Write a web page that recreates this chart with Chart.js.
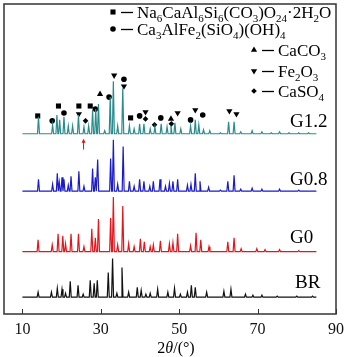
<!DOCTYPE html>
<html lang="zh">
<head>
<meta charset="UTF-8">
<title>XRD 图谱</title>
<script src="https://cdn.jsdelivr.net/npm/chart.js@4.4.1/dist/chart.umd.min.js"></script>
<style>
  html, body { margin: 0; padding: 0; background: #fff; }
  #wrap { width: 350px; height: 357px; }
</style>
</head>
<body>
<div id="wrap"><canvas id="xrd" width="350" height="357"></canvas></div>
<script>
// 各样品衍射峰位置 (2θ) 与峰高，基线为纵向偏移量
const g12Pos = [14.1, 17.7, 18.8, 19.5, 20.6, 21.7, 22.8, 24.3, 25.7, 26.9, 27.9, 28.7, 29.4, 31.0, 32.4, 33.2, 34.3, 35.6, 37.3, 38.5, 39.9, 41.0, 42.6, 43.8, 45.4, 46.9, 47.9, 48.9, 50.4, 52.9, 54.1, 55.0, 56.2, 57.8, 60.5, 62.6, 64.0, 65.7, 68.6, 71.1, 73.5, 75.6, 78.0, 80.5, 83.0];
const g12Int = [17, 9, 19, 14, 17, 8, 8, 19, 7, 8, 24, 25, 30, 3, 37, 53, 8, 46, 8, 5, 10, 10, 5, 7, 10, 7, 8, 11, 5, 8, 14, 9, 4, 3, 1, 12, 12, 2, 3, 2, 1, 2, 1, 1, 1];
const g08Pos = [14.1, 17.7, 18.9, 19.4, 20.1, 20.6, 21.7, 22.4, 24.4, 25.7, 27.9, 28.6, 29.2, 32.5, 33.2, 34.3, 35.7, 37.3, 38.5, 39.9, 41.0, 42.5, 43.4, 45.1, 46.5, 47.5, 48.4, 49.6, 52.1, 53.0, 54.1, 55.3, 57.5, 60.5, 62.4, 64.0, 65.7, 68.6, 71.1, 75.6, 80.5];
const g08Int = [12, 7, 18, 9, 14, 12, 6, 15, 20, 5, 23, 14, 32, 33, 52, 7, 45, 10, 5, 12, 10, 5, 10, 12, 5, 8, 10, 12, 6, 7, 18, 10, 4, 1, 10, 16, 2, 3, 2, 2, 1];
const g0Pos = [14.0, 17.6, 19.1, 20.3, 21.0, 22.4, 24.3, 25.7, 27.7, 28.6, 29.4, 32.5, 33.2, 34.3, 35.6, 37.1, 38.5, 40.1, 41.1, 42.6, 43.4, 45.2, 47.5, 48.4, 49.6, 52.9, 54.3, 55.5, 57.6, 62.4, 64.0, 65.8, 69.8, 71.9, 75.6, 80.5];
const g0Int = [12, 7, 18, 16, 8, 18, 18, 5, 23, 14, 33, 34, 55, 7, 46, 8, 5, 13, 10, 5, 7, 11, 8, 9, 18, 6, 19, 12, 5, 10, 14, 3, 3, 2, 2, 1];
const brPos = [14.0, 17.4, 18.9, 20.1, 21.0, 22.2, 24.2, 25.5, 27.3, 28.3, 29.1, 31.9, 33.0, 34.1, 35.4, 37.1, 39.3, 40.3, 41.5, 42.6, 44.5, 47.1, 48.8, 50.3, 52.1, 53.1, 54.1, 57.0, 61.4, 63.2, 66.9, 68.8, 71.1, 75.0, 80.0, 84.0];
const brInt = [5, 5, 9, 8, 4, 16, 12, 3, 17, 14, 17, 25, 39, 4, 30, 5, 10, 7, 3, 4, 8, 5, 9, 3, 5, 12, 10, 5, 6, 8, 3, 2, 2, 1, 1, 1];
const baselines = [182, 124, 63, 17]; // G1.2, G0.8, G0, BR
const scanRange = [10, 85];

// 物相标记位置
const sqX = [13.9, 19.2, 24.4, 27.3, 37.6];
const sqY = [200, 210, 210, 210, 198];
const ciX = [17.6, 20.6, 28.6, 32.1, 35.9, 39.9, 45.3, 52.9, 56.0];
const ciY = [195, 203, 207, 219, 237, 200, 198, 196, 201];
const upX = [29.8, 47.9];
const upY = [222, 197];
const dnX = [24.4, 33.4, 35.9, 41.4, 49.6, 54.1, 62.8, 64.6];
const dnY = [202, 241, 230, 204, 203, 206, 205, 202];
const diX = [26.1, 41.4, 43.7, 48.0];
const diY = [195, 197, 191, 192];

const arrowX = 25.6, arrowFrom = 166, arrowTo = 177;
const xTicks = [10, 30, 50, 70, 90];
const sampleNames = ['G1.2', 'G0.8', 'G0', 'BR'];
const sampleColors = ['#2a8c8c', '#1b1bcc', '#e3161e', '#111111'];
const phaseNames = ['Na_6CaAl_6Si_6(CO_3)O_24·2H_2O', 'Ca_3AlFe_2(SiO_4)(OH)_4', 'CaCO_3', 'Fe_2O_3', 'CaSO_4'];

const serif = '"Liberation Serif", "Times New Roman", serif';

// 把峰表转成折线点
function spikes(pos, ints, base) {
  const pts = [{ x: scanRange[0], y: base }];
  pos.forEach((p, i) => {
    pts.push({ x: p - 0.25, y: base }, { x: p, y: base + ints[i] }, { x: p + 0.25, y: base });
  });
  pts.push({ x: scanRange[1], y: base });
  return pts;
}

function trace(data, color) {
  return { type: 'line', data, borderColor: color, borderWidth: 1.2, pointRadius: 0, tension: 0, fill: false };
}

function marks(xs, ys, style, r, rot) {
  return {
    type: 'scatter', data: xs.map((x, i) => ({ x, y: ys[i] })),
    pointStyle: style, pointRadius: r, pointRotation: rot || 0,
    backgroundColor: '#000', borderColor: '#000', borderWidth: 0
  };
}

// 含下标的化学式
function drawChem(ctx, str, x, y, size) {
  const parts = str.split(/_(\d+)/);
  let cx = x;
  parts.forEach((s, i) => {
    if (!s) return;
    if (i % 2 === 1) {
      ctx.font = Math.round(size * 0.62) + 'px ' + serif;
      ctx.fillText(s, cx, y + size * 0.22);
    } else {
      ctx.font = size + 'px ' + serif;
      ctx.fillText(s, cx, y);
    }
    cx += ctx.measureText(s).width;
  });
  return cx;
}

const decor = {
  id: 'decor',
  afterDraw(chart) {
    const ctx = chart.ctx;
    const a = chart.chartArea;
    const xs = chart.scales.x, ys = chart.scales.y;
    ctx.save();

    // 边框
    ctx.strokeStyle = '#333';
    ctx.lineWidth = 1.5;
    ctx.strokeRect(a.left, a.top, a.right - a.left, a.bottom - a.top);

    // 向内刻度
    ctx.lineWidth = 1;
    xTicks.forEach(v => {
      const px = Math.round(xs.getPixelForValue(v)) + 0.5;
      ctx.beginPath();
      ctx.moveTo(px, a.bottom);
      ctx.lineTo(px, a.bottom - 5);
      ctx.stroke();
    });

    // 图例
    ctx.fillStyle = '#000';
    ctx.strokeStyle = '#000';
    const legendRows = [
      { mx: 113, y: 12, style: 'rect', r: 3.6, rot: 0 },
      { mx: 113, y: 29, style: 'circle', r: 2.8, rot: 0 },
      { mx: 254, y: 50, style: 'triangle', r: 3.6, rot: 0 },
      { mx: 254, y: 71, style: 'triangle', r: 3.6, rot: 180 },
      { mx: 254, y: 91, style: 'rectRot', r: 2.8, rot: 0 }
    ];
    ctx.textBaseline = 'alphabetic';
    ctx.textAlign = 'left';
    legendRows.forEach((row, i) => {
      Chart.helpers.drawPoint(ctx, { pointStyle: row.style, radius: row.r, rotation: row.rot, borderWidth: 0 }, row.mx, row.y);
      ctx.beginPath();
      ctx.lineWidth = 1.3;
      ctx.moveTo(row.mx + 8, row.y + 0.5);
      ctx.lineTo(row.mx + 20, row.y + 0.5);
      ctx.stroke();
      drawChem(ctx, phaseNames[i], row.mx + 24, row.y + 6, 17);
    });

    // 样品名
    const labelPos = [[290, 127], [290, 185], [290, 243], [295, 288]];
    ctx.font = '19px ' + serif;
    ctx.fillStyle = '#000';
    sampleNames.forEach((n, i) => ctx.fillText(n, labelPos[i][0], labelPos[i][1]));

    // 红色箭头
    const ax = xs.getPixelForValue(arrowX);
    const y0 = ys.getPixelForValue(arrowFrom), y1 = ys.getPixelForValue(arrowTo);
    ctx.strokeStyle = '#e01010';
    ctx.fillStyle = '#e01010';
    ctx.lineWidth = 1;
    ctx.beginPath();
    ctx.moveTo(ax, y0);
    ctx.lineTo(ax, y1 + 3);
    ctx.stroke();
    ctx.beginPath();
    ctx.moveTo(ax, y1);
    ctx.lineTo(ax - 2, y1 + 4);
    ctx.lineTo(ax + 2, y1 + 4);
    ctx.closePath();
    ctx.fill();

    // 横轴标题 2θ/(°)
    ctx.fillStyle = '#000';
    const parts = [['2', ''], ['θ', 'italic '], ['/(°)', '']];
    let w = 0;
    parts.forEach(p => { ctx.font = p[1] + '16px ' + serif; w += ctx.measureText(p[0]).width; });
    let cx = (a.left + a.right) / 2 - w / 2 + 6;
    parts.forEach(p => {
      ctx.font = p[1] + '16px ' + serif;
      ctx.fillText(p[0], cx, 353);
      cx += ctx.measureText(p[0]).width;
    });
    ctx.restore();
  }
};

new Chart(document.getElementById('xrd'), {
  data: {
    datasets: [
      trace(spikes(g12Pos, g12Int, baselines[0]), sampleColors[0]),
      trace(spikes(g08Pos, g08Int, baselines[1]), sampleColors[1]),
      trace(spikes(g0Pos, g0Int, baselines[2]), sampleColors[2]),
      trace(spikes(brPos, brInt, baselines[3]), sampleColors[3]),
      marks(sqX, sqY, 'rect', 3.6),
      marks(ciX, ciY, 'circle', 2.8),
      marks(upX, upY, 'triangle', 3.6),
      marks(dnX, dnY, 'triangle', 3.6, 180),
      marks(diX, diY, 'rectRot', 2.8)
    ]
  },
  options: {
    responsive: false,
    animation: false,
    devicePixelRatio: 1,
    layout: { padding: { left: 1.5, top: 1, right: 9, bottom: 0 } },
    scales: {
      x: {
        type: 'linear', min: 5.3, max: 90,
        afterBuildTicks: s => { s.ticks = xTicks.map(v => ({ value: v })); },
        afterFit: s => { s.height = 43; },
        grid: { display: false, drawTicks: false },
        border: { display: false },
        ticks: { font: { family: serif, size: 16 }, color: '#111', padding: 6, maxRotation: 0, autoSkip: false }
      },
      y: { display: false, min: 0, max: 313 }
    },
    plugins: { legend: { display: false }, tooltip: { enabled: false } }
  },
  plugins: [decor]
});
</script>
</body>
</html>
